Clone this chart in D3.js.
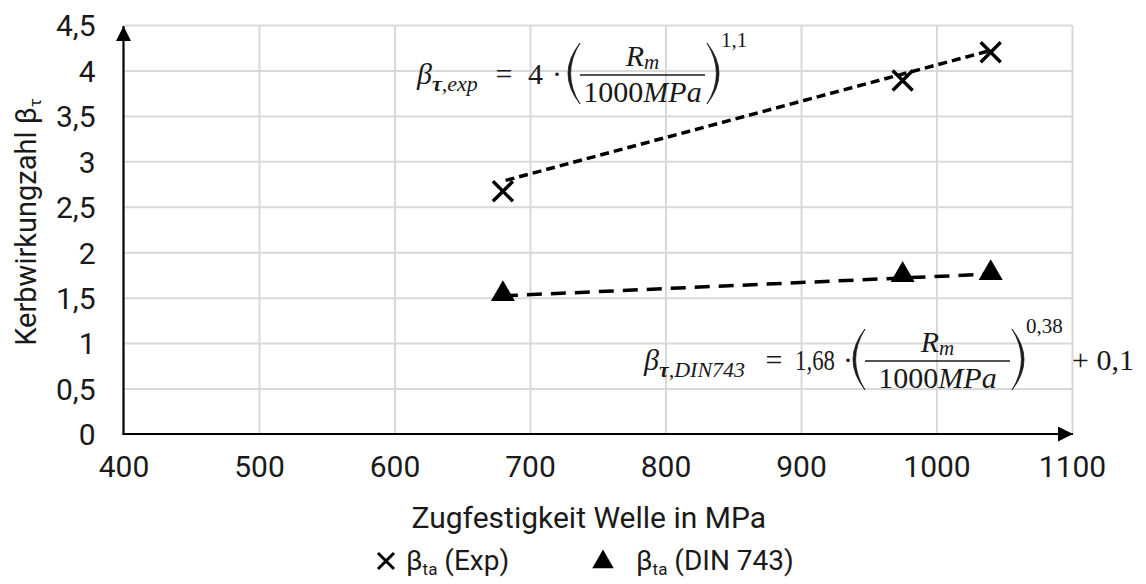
<!DOCTYPE html>
<html>
<head>
<meta charset="utf-8">
<script src="https://cdn.jsdelivr.net/npm/d3@7"></script>
<style>
  body { margin: 0; background: #fff; }
  text { fill: #1a1a1a; }
  .tick text { font-family: Roboto, sans-serif; font-size: 30px; fill: #1a1a1a; }
  .math { font-family: "Liberation Serif", serif; fill: #1a1a1a; }
</style>
</head>
<body>
<div id="chart"></div>
<script>
// data
var xTicks = [400, 500, 600, 700, 800, 900, 1000, 1100];
var yTicks = [0, 0.5, 1, 1.5, 2, 2.5, 3, 3.5, 4, 4.5];

var rmValues = [680, 975, 1040];        // Zugfestigkeit in MPa
var expValues = [2.67, 3.89, 4.2];      // beta_ta (Exp)
var dinValues = [1.54, 1.75, 1.77];     // beta_ta (DIN 743)

// dashed trend lines
var expTrendX = [682, 1040];
var expTrendY = [2.79, 4.22];
var dinTrendX = [680, 1040];
var dinTrendY = [1.52, 1.76];

var width = 1146, height = 584;
var plot = {left: 123.5, right: 1072, top: 25, bottom: 434};

var svg = d3.select("#chart")
  .append("svg")
    .attr("width", width)
    .attr("height", height);

var x = d3.scaleLinear().domain([400, 1100]).range([plot.left, plot.right]);
var y = d3.scaleLinear().domain([0, 4.5]).range([plot.bottom, plot.top]);

var de = d3.formatLocale({decimal: ",", thousands: ".", grouping: [3], currency: ["", "€"]});
var fmt = de.format("~g");

// gridlines
svg.append("g")
  .attr("transform", "translate(0," + plot.bottom + ")")
  .call(d3.axisBottom(x).tickValues(xTicks.slice(1)).tickSize(-(plot.bottom - plot.top)).tickFormat(""))
  .call(function(g) { g.select(".domain").remove(); })
  .selectAll("line").attr("stroke", "#d9d9d9").attr("stroke-width", 2);

svg.append("g")
  .attr("transform", "translate(" + plot.left + ",0)")
  .call(d3.axisLeft(y).tickValues(yTicks.slice(1)).tickSize(-(plot.right - plot.left)).tickFormat(""))
  .call(function(g) { g.select(".domain").remove(); })
  .selectAll("line").attr("stroke", "#d9d9d9").attr("stroke-width", 2);

// tick labels
svg.append("g")
  .attr("transform", "translate(0," + plot.bottom + ")")
  .call(d3.axisBottom(x).tickValues(xTicks).tickSize(0).tickPadding(43).tickFormat(fmt))
  .call(function(g) { g.select(".domain").remove(); })
  .selectAll("text").attr("dy", 0);

svg.append("g")
  .attr("transform", "translate(" + plot.left + ",0)")
  .call(d3.axisLeft(y).tickValues(yTicks).tickSize(0).tickPadding(28).tickFormat(fmt))
  .call(function(g) { g.select(".domain").remove(); })
  .selectAll("text").attr("dy", "0.36em");

// arrows
var defs = svg.append("defs");
defs.append("marker")
    .attr("id", "arrow")
    .attr("viewBox", "0 0 10 10")
    .attr("refX", 10).attr("refY", 5)
    .attr("markerUnits", "userSpaceOnUse")
    .attr("markerWidth", 15).attr("markerHeight", 15)
    .attr("orient", "auto")
  .append("path")
    .attr("d", "M0,0 L10,5 L0,10 Z")
    .attr("fill", "#000");

svg.append("line")
  .attr("x1", plot.left - 1).attr("x2", plot.right + 1)
  .attr("y1", plot.bottom).attr("y2", plot.bottom)
  .attr("stroke", "#000").attr("stroke-width", 2.2)
  .attr("marker-end", "url(#arrow)");

svg.append("line")
  .attr("x1", plot.left).attr("x2", plot.left)
  .attr("y1", plot.bottom + 1).attr("y2", plot.top + 1)
  .attr("stroke", "#000").attr("stroke-width", 2.2)
  .attr("marker-end", "url(#arrow)");

// trend lines
var line = d3.line().x(function(d) { return x(d[0]); }).y(function(d) { return y(d[1]); });

svg.append("path")
  .datum(d3.zip(expTrendX, expTrendY))
  .attr("d", line)
  .attr("fill", "none").attr("stroke", "#000")
  .attr("stroke-width", 3.5).attr("stroke-dasharray", "9,5");

svg.append("path")
  .datum(d3.zip(dinTrendX, dinTrendY))
  .attr("d", line)
  .attr("fill", "none").attr("stroke", "#000")
  .attr("stroke-width", 3.5).attr("stroke-dasharray", "15,9");

// markers
var expData = d3.zip(rmValues, expValues);
var dinData = d3.zip(rmValues, dinValues);

svg.selectAll(".xmark")
  .data(expData)
  .enter()
  .append("path")
    .attr("class", "xmark")
    .attr("transform", function(d) { return "translate(" + x(d[0]) + "," + y(d[1]) + ")"; })
    .attr("d", "M-10,-10L10,10M-10,10L10,-10")
    .attr("stroke", "#000").attr("stroke-width", 3.4).attr("fill", "none");

var tri = d3.symbol().type(d3.symbolTriangle).size(250);
svg.selectAll(".tri")
  .data(dinData)
  .enter()
  .append("path")
    .attr("class", "tri")
    .attr("transform", function(d) { return "translate(" + x(d[0]) + "," + y(d[1]) + ")"; })
    .attr("d", tri)
    .attr("fill", "#000");

// axis titles
svg.append("text")
  .attr("x", (plot.left + plot.right) / 2 - 9).attr("y", 528)
  .attr("text-anchor", "middle")
  .style("font-family", "Roboto, sans-serif").style("font-size", "30px")
  .text("Zugfestigkeit Welle in MPa");

var yt = svg.append("text")
  .attr("transform", "translate(36,222) rotate(-90)")
  .attr("text-anchor", "middle")
  .style("font-family", "Roboto, sans-serif").style("font-size", "29px");
yt.append("tspan").text("Kerbwirkungzahl β");
yt.append("tspan").attr("dy", 5).style("font-size", "17px").text("τ");

// legend
var lg = svg.append("g").style("font-family", "Roboto, sans-serif").style("font-size", "28px");
lg.append("path")
  .attr("transform", "translate(386,561)")
  .attr("d", "M-8,-8L8,8M-8,8L8,-8")
  .attr("stroke", "#000").attr("stroke-width", 3).attr("fill", "none");
var l1 = lg.append("text").attr("x", 406).attr("y", 570);
l1.append("tspan").text("β");
l1.append("tspan").attr("dy", 5).style("font-size", "17px").text("ta");
l1.append("tspan").attr("dy", -5).text(" (Exp)");

lg.append("path")
  .attr("transform", "translate(603,562)")
  .attr("d", d3.symbol().type(d3.symbolTriangle).size(200))
  .attr("fill", "#000");
var l2 = lg.append("text").attr("x", 636).attr("y", 570);
l2.append("tspan").text("β");
l2.append("tspan").attr("dy", 5).style("font-size", "17px").text("ta");
l2.append("tspan").attr("dy", -5).text(" (DIN 743)");

// formulas
function paren(g, x0, y0, y1, open) {
  var m = (y0 + y1) / 2, b = 13, t = 2.6;
  var d = open
    ? "M" + (x0 + 11) + "," + y0 + " Q" + (x0 - b) + "," + m + " " + (x0 + 11) + "," + y1 +
      " Q" + (x0 - b + t * 2) + "," + m + " " + (x0 + 11) + "," + y0 + "Z"
    : "M" + x0 + "," + y0 + " Q" + (x0 + 11 + b) + "," + m + " " + x0 + "," + y1 +
      " Q" + (x0 + 11 + b - t * 2) + "," + m + " " + x0 + "," + y0 + "Z";
  g.append("path").attr("d", d).attr("fill", "#1a1a1a").attr("stroke", "#1a1a1a").attr("stroke-width", 0.8);
}

function formula(o) {
  var g = svg.append("g").attr("class", "math");
  var base = o.bar + 9;
  var t = g.append("text").attr("class", "math").attr("x", o.x).attr("y", base).style("font-size", "30px");
  t.append("tspan").style("font-style", "italic").text("β");
  t.append("tspan").attr("dy", 7).style("font-size", "22px").style("font-weight", "bold").style("font-style", "italic").text("τ");
  t.append("tspan").style("font-size", "22px").style("font-style", "italic").text("," + o.sub);

  g.append("text").attr("class", "math").attr("x", o.eq).attr("y", base).attr("text-anchor", "middle").style("font-size", "30px").text("=");
  var f = g.append("text").attr("class", "math").attr("x", o.k).attr("y", base).style("font-size", "30px").text(o.factor);
  if (o.kw) f.attr("textLength", o.kw).attr("lengthAdjust", "spacingAndGlyphs");
  g.append("text").attr("class", "math").attr("x", o.dot).attr("y", base).attr("text-anchor", "middle").style("font-size", "30px").text("·");

  paren(g, o.p0, o.bar - 32, o.bar + 29, true);
  var num = g.append("text").attr("class", "math").attr("x", (o.f0 + o.f1) / 2).attr("y", o.bar - 9).attr("text-anchor", "middle").style("font-size", "30px");
  num.append("tspan").style("font-style", "italic").text("R");
  num.append("tspan").attr("dy", 3).style("font-size", "21px").style("font-style", "italic").text("m");
  g.append("line").attr("x1", o.f0).attr("x2", o.f1).attr("y1", o.bar).attr("y2", o.bar).attr("stroke", "#1a1a1a").attr("stroke-width", 1.6);
  var den = g.append("text").attr("class", "math").attr("x", (o.f0 + o.f1) / 2).attr("y", o.bar + 27).attr("text-anchor", "middle").style("font-size", "30px");
  den.append("tspan").text("1000");
  den.append("tspan").style("font-style", "italic").text("MPa");
  paren(g, o.p1, o.bar - 32, o.bar + 29, false);
  g.append("text").attr("class", "math").attr("x", o.p1 + 14).attr("y", o.bar - 28).style("font-size", "21px").text(o.exp);
  if (o.plus) {
    g.append("text").attr("class", "math").attr("x", o.p1 + 60).attr("y", base).style("font-size", "30px").text(o.plus);
  }
}

formula({x: 417, sub: "exp", eq: 504, k: 528, dot: 557, factor: "4", p0: 569, f0: 580, f1: 705, p1: 707, bar: 75, exp: "1,1"});
formula({x: 644, sub: "DIN743", eq: 774, k: 795, kw: 40, dot: 848, factor: "1,68", p0: 854, f0: 865, f1: 1010, p1: 1012, bar: 361, exp: "0,38", plus: "+ 0,1"});
</script>
</body>
</html>
